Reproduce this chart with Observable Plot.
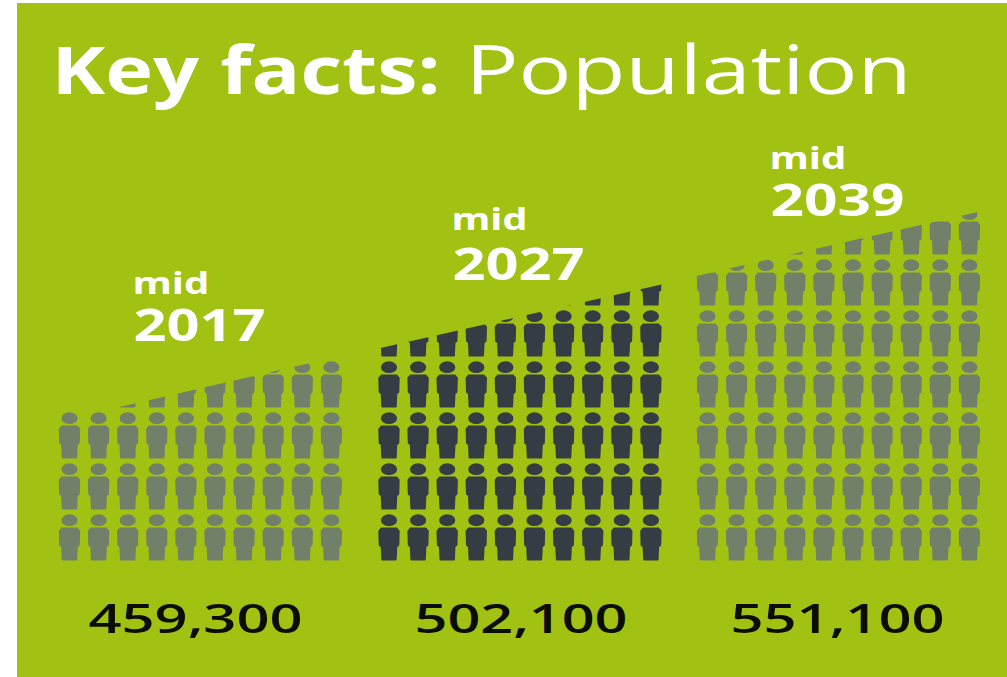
<!DOCTYPE html>
<html>
<head>
<meta charset="utf-8">
<title>Key facts: Population</title>
<script src="https://cdn.jsdelivr.net/npm/d3@7"></script>
<script src="https://cdn.jsdelivr.net/npm/@observablehq/plot@0.6"></script>
<style>
  html, body { margin: 0; background: #fff; }
  #chart { position: absolute; left: 17px; top: 3px; }
</style>
</head>
<body>
<div id="chart"></div>
<script>
// Population figures and their mid-year labels
const years = ["2017", "2027", "2039"];
const populations = ["459,300", "502,100", "551,100"];
const fullRows = [3, 5, 6];          // rows of figures present in every column
const partialFrom = [2, 6, 3];       // first column that carries one further row
const iconFill = ["#72806a", "#363c43", "#72806a"];
const firstColumnX = [69, 388.5, 707];
const columnCount = 10;
const columnStep = 29.1;
const rowStep = 51;
const baseY = 560;

// The sloping edge that slices the top of each group of figures
const edgeLeft = [[113, 408.5], [376, 349], [692, 277]];
const edgeRight = [[345, 355], [668, 283], [982, 211]];

const panel = "#a2c213";
const family = "'Open Sans', sans-serif";

// One record per figure in the pictogram
const people = years.flatMap((year, g) =>
  d3.range(columnCount).flatMap(c => {
    const rows = fullRows[g] + (c >= partialFrom[g] ? 1 : 0);
    return d3.range(rows).map(r => ({
      x: firstColumnX[g] + c * columnStep,
      y: baseY - r * rowStep,
      fill: iconFill[g]
    }));
  })
);

const edges = years.flatMap((year, g) => [
  {year, x: edgeLeft[g][0], y: edgeLeft[g][1], top: 200},
  {year, x: edgeRight[g][0], y: edgeRight[g][1], top: 200}
]);

// Figure drawn upward from its feet, anchored on the bottom edge
const person = {
  draw(ctx) {
    // legs and torso
    ctx.moveTo(-6.8, -1);
    ctx.lineTo(-7.4, -14);
    ctx.lineTo(-9.4, -15.5);
    ctx.lineTo(-9.8, -29.5);
    ctx.lineTo(-7.5, -32.2);
    ctx.lineTo(7.5, -32.2);
    ctx.lineTo(9.8, -29.5);
    ctx.lineTo(9.4, -15.5);
    ctx.lineTo(7.4, -14);
    ctx.lineTo(6.8, -1);
    ctx.closePath();
    // head
    const cy = -40.3, rx = 7.2, ry = 5, k = 0.5523;
    ctx.moveTo(-rx, cy);
    ctx.bezierCurveTo(-rx, cy - k * ry, -k * rx, cy - ry, 0, cy - ry);
    ctx.bezierCurveTo(k * rx, cy - ry, rx, cy - k * ry, rx, cy);
    ctx.bezierCurveTo(rx, cy + k * ry, k * rx, cy + ry, 0, cy + ry);
    ctx.bezierCurveTo(-k * rx, cy + ry, -rx, cy + k * ry, -rx, cy);
    ctx.closePath();
  }
};

// Left-anchored labels; each carries the width it is set to
const labels = [
  {text: "Key facts:", x: 51, y: 93, width: 389, size: 67, weight: 700, fill: "#fff"},
  {text: "Population", x: 465, y: 93, width: 446, size: 67, weight: 400, fill: "#fff"},
  {text: "mid", x: 132, y: 293, width: 77, size: 30, weight: 700, fill: "#fff"},
  {text: years[0], x: 133, y: 340, width: 132, size: 45, weight: 700, fill: "#fff"},
  {text: "mid", x: 451, y: 229, width: 76, size: 30, weight: 700, fill: "#fff"},
  {text: years[1], x: 452, y: 279, width: 132, size: 45, weight: 700, fill: "#fff"},
  {text: "mid", x: 769, y: 168, width: 77, size: 30, weight: 700, fill: "#fff"},
  {text: years[2], x: 770, y: 215, width: 134, size: 45, weight: 700, fill: "#fff"},
  {text: populations[0], x: 88, y: 632, width: 214, size: 40, weight: 600, fill: "#0a0d00"},
  {text: populations[1], x: 414, y: 632, width: 213, size: 40, weight: 600, fill: "#0a0d00"},
  {text: populations[2], x: 730, y: 632, width: 214, size: 40, weight: 600, fill: "#0a0d00"}
];

const textMarks = labels.map(d =>
  Plot.text([d], {
    x: "x", y: "y", text: "text", fill: d.fill,
    textAnchor: "start", lineAnchor: "bottom",
    fontFamily: family, fontSize: d.size, fontWeight: d.weight
  })
);

const chart = Plot.plot({
  width: 990,
  height: 674,
  margin: 0,
  style: {background: panel, overflow: "hidden"},
  x: {domain: [17, 1007], range: [0, 990], axis: null},
  y: {domain: [3, 677], range: [0, 674], axis: null},
  marks: [
    Plot.dot(people, {
      x: "x", y: "y", r: 1, symbol: person,
      fill: "fill", stroke: "fill", strokeWidth: 1.8, strokeLinejoin: "round"
    }),
    Plot.area(edges, {x1: "x", y1: "y", y2: "top", z: "year", fill: panel}),
    ...textMarks
  ]
});

// Stretch each label to its set width, the glyphs widening with it
const textNodes = d3.select(chart).selectAll("text").nodes();
textNodes.forEach((node, i) => {
  node.setAttribute("textLength", labels[i].width);
  node.setAttribute("lengthAdjust", "spacingAndGlyphs");
});

document.getElementById("chart").appendChild(chart);
</script>
</body>
</html>
